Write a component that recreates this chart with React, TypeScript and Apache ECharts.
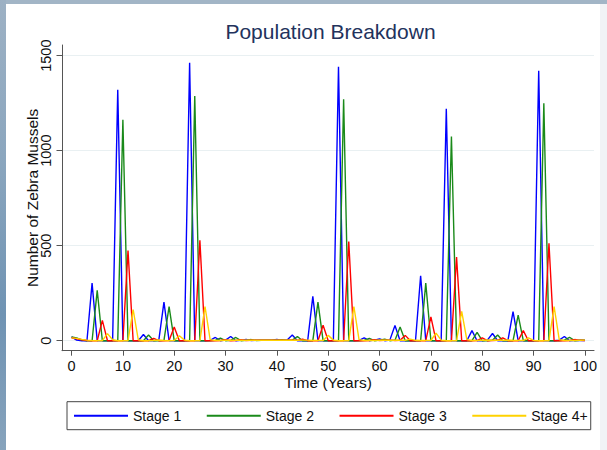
import React, { useEffect, useRef } from "react";
import * as echarts from "echarts";

// Simulated yearly counts by life stage, years 0..100
const YEARS: number[] = Array.from({ length: 101 }, (_, i) => i);

const STAGE_1: number[] = [
  20, 3, 0, 0, 303, 0, 0, 0, 0, 1320,
  0, 0, 0, 0, 33, 0, 0, 3, 203, 0,
  0, 0, 0, 1463, 0, 0, 0, 2, 17, 0,
  3, 22, 0, 2, 7, 1, 2, 3, 2, 3,
  6, 2, 4, 30, 0, 0, 0, 233, 0, 0,
  0, 0, 1442, 0, 0, 0, 2, 15, 0, 3,
  10, 0, 3, 80, 0, 0, 0, 0, 342, 0,
  0, 0, 0, 1220, 0, 0, 0, 0, 53, 0,
  0, 3, 38, 0, 0, 0, 153, 0, 0, 0,
  0, 1420, 0, 0, 0, 3, 22, 0, 1, 2,
  1,
];

const STAGE_2: number[] = [
  20, 15, 3, 0, 0, 265, 0, 0, 0, 0,
  1162, 0, 0, 0, 0, 30, 0, 0, 2, 179,
  0, 0, 0, 0, 1288, 0, 0, 0, 2, 14,
  0, 2, 17, 0, 2, 6, 1, 2, 2, 2,
  2, 5, 2, 3, 22, 0, 0, 0, 203, 0,
  0, 0, 0, 1271, 0, 0, 0, 2, 12, 0,
  3, 8, 0, 3, 72, 0, 0, 0, 0, 303,
  0, 0, 0, 0, 1074, 0, 0, 0, 0, 44,
  0, 0, 3, 30, 0, 0, 0, 135, 0, 0,
  0, 0, 1250, 0, 0, 0, 3, 18, 0, 2,
  2,
];

const STAGE_3: number[] = [
  15, 10, 5, 1, 0, 0, 107, 0, 0, 0,
  0, 475, 0, 0, 0, 0, 12, 0, 0, 1,
  72, 0, 0, 0, 0, 529, 0, 0, 0, 1,
  5, 0, 1, 6, 1, 2, 3, 2, 2, 2,
  2, 2, 3, 2, 2, 8, 0, 0, 0, 81,
  0, 0, 0, 0, 522, 0, 0, 0, 1, 5,
  1, 2, 3, 1, 2, 28, 0, 0, 0, 0,
  125, 0, 0, 0, 0, 440, 0, 0, 0, 1,
  15, 0, 1, 2, 15, 0, 0, 0, 53, 0,
  0, 0, 0, 513, 0, 0, 0, 1, 6, 2,
  1,
];

const STAGE_4: number[] = [
  15, 12, 7, 3, 1, 0, 0, 37, 5, 0,
  0, 0, 163, 5, 0, 0, 1, 4, 1, 0,
  1, 26, 3, 0, 0, 0, 180, 6, 1, 1,
  2, 3, 2, 2, 3, 2, 2, 2, 2, 2,
  2, 2, 2, 2, 2, 3, 3, 1, 1, 1,
  28, 3, 0, 0, 0, 180, 6, 1, 1, 1,
  2, 2, 2, 2, 2, 2, 8, 2, 1, 1,
  1, 40, 3, 0, 0, 0, 154, 6, 1, 1,
  2, 4, 2, 2, 2, 4, 1, 1, 1, 15,
  2, 0, 0, 0, 180, 6, 1, 1, 1, 2,
  3,
];

const SERIES_NAMES: string[] = ["Stage 1", "Stage 2", "Stage 3", "Stage 4+"];
const SERIES_COLORS: string[] = ["#0000ff", "#1a8a1a", "#ff0000", "#ffd200"];
const X_TICKS: number[] = [0, 10, 20, 30, 40, 50, 60, 70, 80, 90, 100];
const Y_TICKS: number[] = [0, 500, 1000, 1500];

const FONT = "'Liberation Sans', Arial, Helvetica, sans-serif";

export default function App() {
  const ref = useRef<HTMLDivElement>(null);

  useEffect(() => {
    if (!ref.current) return;
    const chart = echarts.init(ref.current, undefined, { renderer: "svg" });
    const stages = [STAGE_1, STAGE_2, STAGE_3, STAGE_4];

    chart.setOption({
      animation: false,
      backgroundColor: "#ffffff",
      textStyle: { fontFamily: FONT },
      title: {
        text: "Population Breakdown",
        left: 324.5,
        top: 17,
        padding: 0,
        textAlign: "center",
        textStyle: {
          fontFamily: FONT,
          fontSize: 21,
          fontWeight: "normal",
          color: "#22325c",
        },
      },
      grid: { left: 56, top: 41, right: 2.5, bottom: 99.3, containLabel: false },
      xAxis: {
        type: "value",
        min: -1.86,
        max: 101.78,
        name: "Time (Years)",
        nameLocation: "middle",
        nameGap: 24,
        nameMoveOverlap: false,
        nameTextStyle: { fontFamily: FONT, fontSize: 15.5, color: "#111" },
        axisLine: { show: true, onZero: false, lineStyle: { color: "#555", width: 1 } },
        axisTick: {
          show: true,
          length: 5,
          customValues: X_TICKS,
          lineStyle: { color: "#555", width: 1 },
        },
        axisLabel: {
          customValues: X_TICKS,
          margin: 8,
          fontFamily: FONT,
          fontSize: 14.5,
          color: "#111",
          formatter: (v: number) => String(v),
        },
        splitLine: { show: false },
      },
      yAxis: {
        type: "value",
        min: -52.6,
        max: 1556,
        name: "Number of Zebra Mussels",
        nameLocation: "middle",
        nameGap: 22,
        nameMoveOverlap: false,
        nameTextStyle: { fontFamily: FONT, fontSize: 15.5, color: "#111" },
        axisLine: { show: true, onZero: false, lineStyle: { color: "#555", width: 1 } },
        axisTick: {
          show: true,
          length: 5.5,
          customValues: Y_TICKS,
          lineStyle: { color: "#555", width: 1 },
        },
        axisLabel: {
          customValues: Y_TICKS,
          rotate: 90,
          margin: 9,
          fontFamily: FONT,
          fontSize: 14.5,
          color: "#111",
          formatter: (v: number) => String(v),
        },
        splitLine: { show: true, lineStyle: { color: "#e9f0f2", width: 1 } },
      },
      legend: {
        left: 61,
        top: 397.7,
        orient: "horizontal",
        icon: "rect",
        itemWidth: 54,
        itemHeight: 2,
        itemGap: 25.5,
        padding: [7, 3, 7, 7],
        borderColor: "#444",
        borderWidth: 1,
        borderRadius: 0,
        textStyle: { fontFamily: FONT, fontSize: 14, color: "#111" },
        data: SERIES_NAMES,
      },
      series: stages.map((vals, k) => ({
        name: SERIES_NAMES[k],
        type: "line",
        symbol: "none",
        color: SERIES_COLORS[k],
        lineStyle: { color: SERIES_COLORS[k], width: 1.4 },
        data: YEARS.map((t, i) => [t, vals[i]]),
      })),
    });

    return () => chart.dispose();
  }, []);

  return (
    <div
      style={{
        position: "fixed",
        left: 0,
        top: 0,
        width: 607,
        height: 450,
        background: "#f1f3f6",
        overflow: "hidden",
      }}
    >
      <div
        style={{
          position: "absolute",
          left: 0,
          top: 0,
          width: 607,
          height: 4,
          background: "#a2b5c6",
        }}
      />
      <div
        style={{
          position: "absolute",
          left: 0,
          top: 0,
          width: 6,
          height: 450,
          background: "linear-gradient(to bottom, #9db1c4 0%, #8ba6be 35%, #6f93b3 70%, #87a3bc 100%)",
        }}
      />
      <div
        ref={ref}
        style={{ position: "absolute", left: 6, top: 4, width: 594, height: 446 }}
      />
    </div>
  );
}
